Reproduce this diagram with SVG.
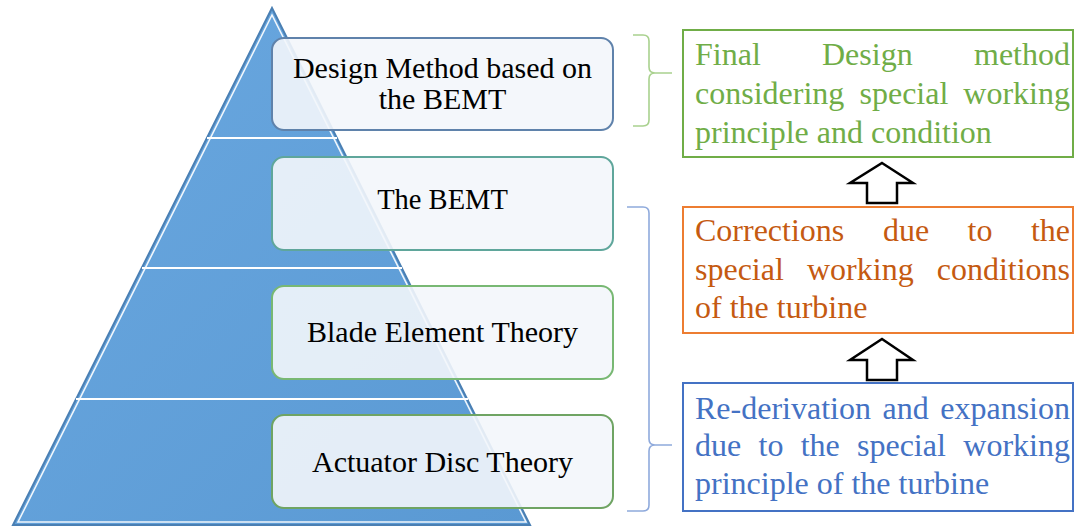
<svg xmlns="http://www.w3.org/2000/svg" width="1076" height="529" viewBox="0 0 1076 529">
<style>
.lt{font-family:"Liberation Serif","Times New Roman",serif;font-size:30px;fill:#000;text-anchor:middle}
.rt{font-family:"Liberation Serif","Times New Roman",serif;font-size:32px}
.lbox{fill:#F3F6FB;fill-opacity:0.9;stroke-width:2}
.rbox{fill:#FFFFFF;stroke-width:2}
.brace{fill:none;stroke-width:1.6}
.arrow{fill:#FFFFFF;stroke:#000;stroke-width:2.5;stroke-linejoin:miter}
.sep{stroke:#FFFFFF;stroke-width:2}
</style>
<defs>
<linearGradient id="pg" x1="0" y1="0" x2="1" y2="1">
<stop offset="0" stop-color="#6AA8E0"/>
<stop offset="1" stop-color="#5A99D3"/>
</linearGradient>
</defs>
<rect width="1076" height="529" fill="#FFFFFF"/>
<g id="pyramid">
<polygon points="272,8 13,525 530,525" fill="url(#pg)" stroke="#4A7FB3" stroke-width="2" stroke-linejoin="miter"/>
<polygon points="272,15 18,522 526,522" fill="none" stroke="#FFFFFF" stroke-width="1.6" stroke-opacity="0.9"/>
<line class="sep" x1="207" y1="138" x2="337" y2="138"/>
<line class="sep" x1="142" y1="268" x2="402" y2="268"/>
<line class="sep" x1="76" y1="399" x2="468" y2="399"/>
</g>
<g id="node-design">
<rect class="lbox" x="272" y="38" width="341" height="92" rx="12" stroke="#5F82AB"/>
<text class="lt" x="442.5" y="78">Design Method based on</text>
<text class="lt" x="442.5" y="109">the BEMT</text>
</g>
<g id="node-bemt">
<rect class="lbox" x="272" y="157" width="341" height="93" rx="12" stroke="#5FA69B"/>
<text class="lt" x="442.5" y="209" style="font-size:28.5px">The BEMT</text>
</g>
<g id="node-blade">
<rect class="lbox" x="272" y="286" width="341" height="93" rx="12" stroke="#78B873"/>
<text class="lt" x="442.5" y="342">Blade Element Theory</text>
</g>
<g id="node-actuator">
<rect class="lbox" x="272" y="415" width="341" height="93" rx="12" stroke="#6FA463"/>
<text class="lt" x="442.5" y="472">Actuator Disc Theory</text>
</g>
<g id="node-final">
<rect class="rbox" x="683" y="30" width="390" height="127" stroke="#70AD47"/>
<g class="rt" fill="#70AD47">
<text x="695" y="65">Final</text>
<text x="822" y="65">Design</text>
<text x="1070" y="65" text-anchor="end">method</text>
<text x="695" y="104">considering</text>
<text x="859.5" y="104">special</text>
<text x="1070" y="104" text-anchor="end">working</text>
<text x="695" y="143">principle and condition</text>
</g>
</g>
<g id="node-corrections">
<rect class="rbox" x="683" y="207" width="390" height="126" stroke="#ED7D31"/>
<g class="rt" fill="#C55A11">
<text x="695" y="241">Corrections</text>
<text x="883" y="241">due</text>
<text x="967.5" y="241">to</text>
<text x="1070" y="241" text-anchor="end">the</text>
<text x="695" y="280">special</text>
<text x="807" y="280">working</text>
<text x="1070" y="280" text-anchor="end">conditions</text>
<text x="695" y="318">of the turbine</text>
</g>
</g>
<g id="node-rederivation">
<rect class="rbox" x="683" y="383" width="390" height="128" stroke="#4472C4"/>
<g class="rt" fill="#4472C4">
<text x="695" y="419">Re-derivation</text>
<text x="882.5" y="419">and</text>
<text x="1070" y="419" text-anchor="end">expansion</text>
<text x="695" y="456">due</text>
<text x="758.5" y="456">to</text>
<text x="800.7" y="456">the</text>
<text x="857" y="456">special</text>
<text x="1070" y="456" text-anchor="end">working</text>
<text x="695" y="494">principle of the turbine</text>
</g>
</g>
<g id="connectors">
<path class="brace" stroke="#A9D18E" d="M633,35 H643 Q649,35 649,41 V67 Q649,73 655,73 H672 M655,73 Q649,73 649,79 V120 Q649,126 643,126 H633"/>
<path class="brace" stroke="#8FAADC" d="M627,207 H643 Q649,207 649,213 V439 Q649,445 655,445 H672 M655,445 Q649,445 649,451 V505 Q649,511 643,511 H627"/>
<polygon class="arrow" points="882,163 913,183 897,183 897,203 867,203 867,183 850,183"/>
<polygon class="arrow" points="882,339 913,360 897,360 897,380 867,380 867,360 850,360"/>
</g>
</svg>
